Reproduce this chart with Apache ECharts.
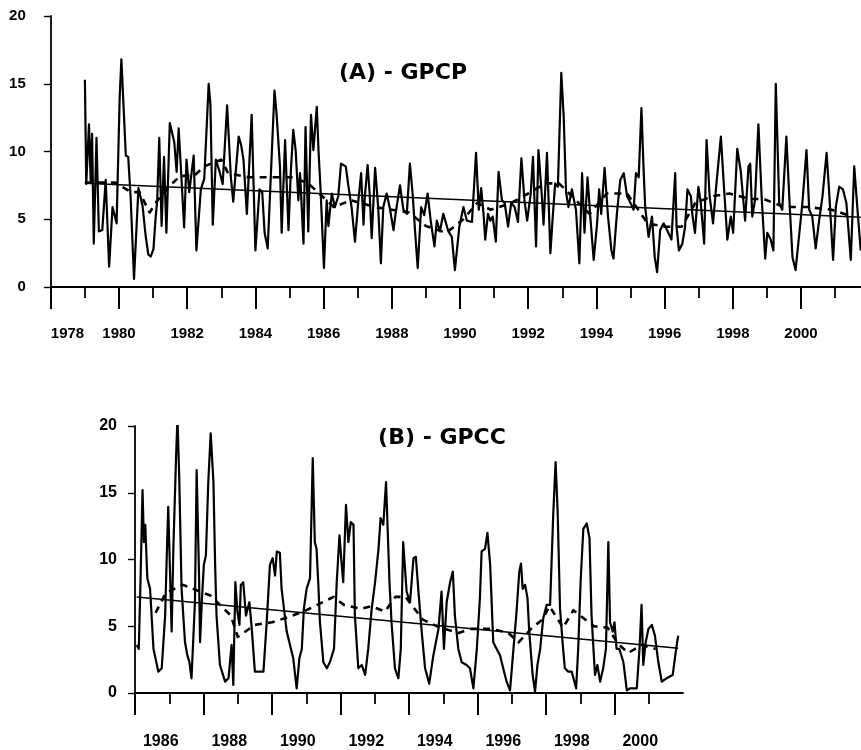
<!DOCTYPE html>
<html><head><meta charset="utf-8">
<script src="https://cdn.jsdelivr.net/npm/echarts@6/dist/echarts.min.js"></script>
<style>html,body{margin:0;padding:0;background:#fff}#chart{width:861px;height:750px}</style>
</head><body><div id="chart"></div>
<script>
// ---------- Panel A : GPCP ----------
const gpcpYears = [
 1979.00,1979.04,1979.12,1979.17,1979.21,1979.26,1979.34,1979.41,1979.51,1979.61,1979.71,1979.81,1979.93,
 1980.02,1980.07,1980.20,1980.27,1980.34,1980.44,1980.57,1980.69,1980.78,1980.86,1980.93,
 1981.01,1981.07,1981.12,1981.18,1981.25,1981.32,1981.39,1981.49,1981.62,1981.69,1981.75,1981.81,1981.91,1981.98,
 1982.06,1982.19,1982.27,1982.40,1982.50,1982.63,1982.68,1982.75,1982.84,1982.94,
 1983.04,1983.17,1983.28,1983.35,1983.51,1983.58,1983.65,1983.75,1983.89,
 1984.00,1984.12,1984.20,1984.27,1984.36,1984.56,1984.62,1984.72,1984.77,1984.87,1984.97,
 1985.04,1985.11,1985.18,1985.26,1985.31,1985.41,1985.47,1985.55,1985.63,1985.70,1985.80,1985.85,1985.91,
 1986.01,1986.09,1986.14,1986.24,1986.33,1986.43,1986.51,1986.65,1986.73,1986.82,1986.92,
 1987.02,1987.10,1987.17,1987.21,1987.29,1987.35,1987.41,1987.51,1987.60,1987.68,1987.75,1987.85,1987.95,
 1988.05,1988.11,1988.24,1988.34,1988.44,1988.53,1988.61,1988.68,1988.76,1988.86,1988.95,
 1989.05,1989.14,1989.25,1989.32,1989.41,1989.51,1989.66,1989.76,1989.85,1989.98,
 1990.10,1990.20,1990.35,1990.47,1990.55,1990.62,1990.69,1990.74,1990.82,1990.89,1990.96,
 1991.05,1991.13,1991.23,1991.31,1991.41,1991.50,1991.60,1991.70,1991.80,1991.89,1991.97,
 1992.07,1992.14,1992.23,1992.30,1992.40,1992.45,1992.55,1992.65,1992.72,1992.79,1992.87,1992.97,
 1993.04,1993.11,1993.18,1993.28,1993.40,1993.50,1993.58,1993.65,1993.74,1993.82,1993.92,
 1994.02,1994.08,1994.14,1994.24,1994.34,1994.44,1994.50,1994.60,1994.70,1994.80,1994.90,
 1995.00,1995.09,1995.16,1995.24,1995.32,1995.38,1995.43,1995.53,1995.63,1995.71,1995.78,1995.87,1995.97,
 1996.07,1996.20,1996.31,1996.35,1996.42,1996.52,1996.60,1996.67,1996.77,1996.81,1996.89,1996.99,
 1997.06,1997.16,1997.23,1997.32,1997.42,1997.52,1997.65,1997.74,1997.84,1997.94,
 1998.01,1998.13,1998.23,1998.36,1998.46,1998.51,1998.57,1998.65,1998.75,1998.85,1998.95,
 1999.01,1999.11,1999.19,1999.26,1999.36,1999.45,1999.57,1999.67,1999.75,1999.84,1999.94,
 2000.04,2000.16,2000.24,2000.33,2000.43,2000.53,2000.63,2000.75,2000.82,2000.94,
 2001.02,2001.12,2001.23,2001.33,2001.46,2001.56,2001.65,2001.75
];
const gpcpValues = [
 15.3,7.6,12.0,7.8,11.3,3.2,11.0,4.1,4.2,7.9,1.5,5.9,4.7,
 14.0,16.8,9.7,9.6,6.7,0.6,7.3,6.0,3.8,2.4,2.25,
 2.8,5.0,6.4,11.0,4.5,9.6,4.0,12.1,10.7,8.5,11.7,9.0,4.4,9.4,
 7.0,9.7,2.7,7.2,8.0,15.0,13.5,4.6,9.4,8.6,
 7.6,13.4,8.1,6.3,11.1,10.5,9.4,5.4,12.7,
 2.7,7.2,7.0,4.0,2.85,14.5,12.8,8.9,4.0,10.85,4.2,
 8.6,11.6,10.1,6.4,8.4,3.2,11.8,4.1,12.7,10.1,13.3,10.1,7.2,
 1.4,6.4,4.5,6.9,5.9,6.7,9.1,8.9,7.4,5.9,3.35,
 6.4,8.4,4.6,6.7,9.0,6.9,3.6,8.8,5.9,1.75,5.9,6.9,5.7,
 4.2,5.4,7.5,5.7,5.4,9.1,6.9,4.2,1.4,5.9,5.3,
 6.9,4.9,3.0,4.9,4.1,5.4,4.1,3.7,1.25,4.45,
 5.9,4.9,4.8,9.9,5.7,7.3,5.4,3.5,5.4,4.9,5.2,
 3.35,8.5,6.4,6.2,4.45,6.2,5.9,4.8,9.5,6.4,4.9,
 6.8,9.6,3.0,10.1,6.7,4.6,9.9,2.5,5.2,7.65,7.4,15.8,
 12.6,7.0,5.9,7.2,5.7,1.75,8.4,4.0,8.1,5.2,2.0,
 4.7,7.2,5.4,8.8,5.2,2.7,2.1,5.4,7.9,8.4,6.7,
 6.2,5.7,8.4,8.1,13.2,8.9,5.9,3.7,5.2,2.2,1.1,4.2,4.7,
 4.2,3.5,8.4,4.45,2.7,3.2,4.45,7.2,6.7,5.4,4.0,7.4,
 6.2,3.2,10.85,6.7,4.7,7.65,11.1,7.4,3.5,5.2,
 4.0,10.2,8.6,4.9,8.9,9.1,5.2,6.4,12.0,6.4,2.1,
 4.0,3.5,2.7,15.0,6.2,5.7,11.1,5.9,2.2,1.25,3.7,
 6.2,10.1,5.7,5.2,2.85,4.9,6.7,9.9,7.2,2.0,
 5.9,7.4,7.2,6.2,2.0,8.9,5.9,2.7
];
const gpcpMeanYears = [1979.0,1979.9,1980.35,1980.6,1980.9,1981.1,1981.5,1981.8,1982.2,1982.5,
 1983.0,1983.2,1983.8,1984.2,1984.6,1985.1,1985.55,1986.0,1986.3,1986.8,
 1987.5,1988.0,1988.5,1989.0,1989.6,1990.1,1990.5,1990.9,1991.5,1992.0,
 1992.5,1992.9,1993.2,1993.8,1994.3,1994.9,1995.5,1996.0,1996.5,1996.9,
 1997.4,1997.9,1998.5,1998.9,1999.5,2000.2,2000.9,2001.5];
const gpcpMeanValues = [7.7,7.7,7.0,7.0,5.5,6.3,7.5,8.2,8.2,8.9,
 9.4,8.4,8.1,8.1,8.1,8.1,7.65,6.6,5.9,6.4,
 5.9,5.7,5.5,4.5,4.0,5.0,6.2,5.7,6.2,6.9,
 7.65,7.65,6.9,5.4,6.9,6.9,4.7,4.45,4.45,6.2,
 6.7,6.9,6.5,6.5,5.9,5.9,5.7,5.2];
const gpcpTrendYears = [1979.0, 2001.75];
const gpcpTrendValues = [7.65, 5.15];
const gpcpTickYears = [1978,1979,1980,1981,1982,1983,1984,1985,1986,1987,1988,1989,1990,1991,1992,1993,1994,1995,1996,1997,1998,1999,2000,2001];
const gpcpLongTickYears = [1978,1980,1982,1984,1986,1988,1990,1992,1994,1996,1998,2000];
const gpcpLabelYears = [1978,1980,1982,1984,1986,1988,1990,1992,1994,1996,1998,2000];

// ---------- Panel B : GPCC ----------
const gpccYears = [
 1985.05,1985.11,1985.16,1985.22,1985.26,1985.30,1985.36,1985.44,1985.54,1985.68,1985.78,1985.88,1985.92,1985.97,
 1986.02,1986.07,1986.12,1986.20,1986.24,1986.29,1986.36,1986.46,1986.53,1986.59,1986.65,1986.75,1986.80,1986.87,1986.90,1986.95,
 1987.01,1987.07,1987.14,1987.21,1987.29,1987.34,1987.38,1987.48,1987.63,1987.73,1987.82,1987.87,1987.93,1987.99,
 1988.05,1988.09,1988.16,1988.24,1988.34,1988.41,1988.50,1988.75,1988.84,1988.94,
 1989.02,1989.09,1989.14,1989.23,1989.28,1989.43,1989.62,1989.72,1989.80,1989.87,1989.93,
 1990.01,1990.11,1990.19,1990.25,1990.30,1990.35,1990.40,1990.50,1990.60,1990.69,1990.81,1990.89,1990.97,
 1991.03,1991.08,1991.16,1991.23,1991.30,1991.38,1991.42,1991.52,1991.62,1991.72,1991.81,1991.91,
 1992.01,1992.11,1992.17,1992.25,1992.33,1992.38,1992.43,1992.49,1992.59,1992.69,1992.76,1992.83,1992.93,
 1993.03,1993.13,1993.20,1993.27,1993.37,1993.47,1993.59,1993.71,1993.86,1993.95,
 1994.02,1994.10,1994.20,1994.28,1994.34,1994.44,1994.54,1994.68,1994.78,1994.88,1994.98,
 1995.07,1995.12,1995.22,1995.29,1995.37,1995.46,1995.56,1995.66,1995.75,1995.85,1995.95,
 1996.05,1996.14,1996.22,1996.27,1996.32,1996.39,1996.46,1996.51,1996.61,1996.68,1996.75,1996.83,1996.92,
 1997.02,1997.12,1997.21,1997.28,1997.34,1997.41,1997.49,1997.55,1997.65,1997.75,1997.88,1997.94,
 1998.01,1998.09,1998.19,1998.27,1998.33,1998.43,1998.50,1998.58,1998.67,1998.75,1998.82,1998.87,1998.95,
 1999.00,1999.06,1999.14,1999.26,1999.36,1999.45,1999.65,1999.73,1999.79,1999.84,1999.91,1999.99,
 2000.09,2000.18,2000.28,2000.38,2000.52,2000.70,2000.80,2000.86
];
const gpccValues = [
 3.6,3.3,8.3,15.2,11.3,12.6,8.6,7.8,3.3,1.6,1.85,5.8,9.6,13.95,
 9.3,4.6,10.8,17.8,20.6,16.3,7.8,3.8,2.8,2.3,1.1,6.8,16.7,8.8,3.8,6.8,
 9.6,10.3,15.8,19.45,15.8,9.6,5.8,2.1,0.85,1.1,3.6,0.6,8.3,6.1,
 5.1,8.1,8.3,5.8,6.8,4.8,1.6,1.6,5.1,9.6,
 10.1,8.8,10.6,10.5,7.8,4.6,2.6,0.35,2.6,3.3,6.3,
 7.8,8.6,17.6,11.3,10.8,8.3,5.3,2.3,1.85,2.3,3.3,8.3,11.8,
 9.8,8.3,14.1,11.3,12.8,12.6,5.8,1.85,2.1,1.35,3.3,6.3,
 8.3,10.8,13.1,12.6,15.8,15.9,8.3,5.3,1.85,1.1,3.3,11.3,7.6,
 6.8,10.1,10.2,7.8,4.6,1.85,0.7,2.8,4.8,7.6,
 3.3,6.8,8.3,9.1,5.8,3.3,2.3,2.1,1.85,0.35,3.3,
 7.1,10.6,10.8,12.0,9.6,3.8,3.3,2.8,1.85,0.85,0.2,
 3.3,6.1,9.1,9.7,7.8,8.1,7.1,4.6,1.35,0.1,2.1,3.3,5.6,
 6.6,6.6,13.3,17.3,13.6,6.3,3.6,1.85,1.6,1.6,0.35,3.3,
 8.3,12.3,12.7,11.6,5.8,1.35,2.1,0.85,1.85,3.3,11.3,5.3,4.6,
 5.3,3.3,3.3,2.3,0.2,0.35,0.35,3.3,6.6,2.1,3.8,4.8,
 5.1,4.3,2.3,0.85,1.1,1.35,3.3,4.3
];
const gpccMeanYears = [1985.6,1985.9,1986.4,1986.9,1987.2,1987.8,1988.0,1988.5,1989.0,1989.5,
 1990.0,1990.8,1991.1,1991.6,1991.9,1992.3,1992.6,1992.9,1993.4,1993.9,
 1994.45,1994.8,1995.4,1995.9,1996.2,1996.6,1996.9,1997.1,1997.5,1997.8,
 1998.4,1998.8,1999.1,1999.4,1999.8,2000.2];
const gpccMeanValues = [6.0,7.5,8.1,7.6,7.3,5.8,4.2,5.1,5.3,5.7,
 6.2,7.2,6.6,6.3,6.5,6.1,7.2,7.2,5.5,4.9,
 4.5,4.8,4.8,4.5,3.8,4.9,5.5,6.5,4.9,6.2,
 5.0,4.9,3.7,3.0,3.6,3.3];
const gpccTrendYears = [1985.05, 2000.86];
const gpccTrendValues = [7.2, 3.35];
const gpccTickYears = [1985,1986,1987,1988,1989,1990,1991,1992,1993,1994,1995,1996,1997,1998,1999,2000];
const gpccLongTickYears = [1985,1987,1989,1991,1993,1995,1997,1999];
const gpccLabelYears = [1986,1988,1990,1992,1994,1996,1998,2000];

// ---------- build ----------
const FONT = '"Liberation Sans", Arial, Helvetica, sans-serif';
const zip = (xs, ys) => xs.slice(0, Math.min(xs.length, ys.length)).map((x, i) => [x, ys[i]]);
const BLACK = '#000';

function mainX(grid, min, max, ticks, labels, size, margin, pad) {
  return {
    gridIndex: grid, type: 'value', min: min, max: max, position: 'bottom',
    axisLine: { show: true, onZero: false, lineStyle: { color: BLACK, width: 1.8 } },
    axisTick: { show: true, inside: false, length: 11, customValues: ticks, lineStyle: { color: BLACK, width: 1.8 } },
    axisLabel: { show: true, customValues: labels, margin: margin, color: BLACK,
      fontFamily: FONT, fontWeight: 'bold', fontSize: size, padding: pad,
      formatter: v => String(Math.round(v)) },
    splitLine: { show: false }
  };
}
function longX(grid, min, max, ticks) {
  return {
    gridIndex: grid, type: 'value', min: min, max: max, position: 'bottom',
    axisLine: { show: false, onZero: false },
    axisTick: { show: true, inside: false, length: 22, customValues: ticks, lineStyle: { color: BLACK, width: 2 } },
    axisLabel: { show: false }, splitLine: { show: false }
  };
}
function yAx(grid, margin, size) {
  return {
    gridIndex: grid, type: 'value', min: 0, max: 20, interval: 5,
    axisLine: { show: true, lineStyle: { color: BLACK, width: 1.8 } },
    axisTick: { show: true, inside: false, length: 7, lineStyle: { color: BLACK, width: 1.4 } },
    axisLabel: { show: true, margin: margin, color: BLACK, fontFamily: FONT, fontWeight: 'bold', fontSize: size },
    splitLine: { show: false }
  };
}
function lineSeries(xi, yi, data, width, type, z) {
  return {
    type: 'line', xAxisIndex: xi, yAxisIndex: yi, data: data, showSymbol: false, symbol: 'none',
    smooth: false, z: z, silent: true,
    lineStyle: { color: BLACK, width: width, type: type, join: 'round' }
  };
}

const topX = mainX(0, 1978, 2001.75, gpcpTickYears, gpcpLabelYears, 15, 39, 0);
topX.axisLabel.alignMinLabel = 'left';

const option = {
  animation: false,
  backgroundColor: '#fff',
  grid: [
    { left: 50.8, top: 16, width: 809.9, height: 271 },
    { left: 135, top: 426, width: 548, height: 267 }
  ],
  xAxis: [
    topX,
    longX(0, 1978, 2001.75, gpcpLongTickYears),
    mainX(1, 1985, 2001, gpccTickYears, gpccLabelYears, 16, 41, [0, 17, 0, 0]),
    longX(1, 1985, 2001, gpccLongTickYears)
  ],
  yAxis: [ yAx(0, 25, 15), yAx(1, 18, 16) ],
  graphic: [
    { type: 'text', x: 403, y: 73, style: { text: '(A) - GPCP', fill: BLACK,
      font: 'bold 22px "DejaVu Sans", sans-serif', textAlign: 'center', textVerticalAlign: 'middle' } },
    { type: 'text', x: 442, y: 438, style: { text: '(B) - GPCC', fill: BLACK,
      font: 'bold 22px "DejaVu Sans", sans-serif', textAlign: 'center', textVerticalAlign: 'middle' } }
  ],
  series: [
    lineSeries(0, 0, zip(gpcpYears, gpcpValues), 2.2, 'solid', 3),
    lineSeries(0, 0, zip(gpcpMeanYears, gpcpMeanValues), 2.6, [7, 6], 4),
    lineSeries(0, 0, zip(gpcpTrendYears, gpcpTrendValues), 1.5, 'solid', 5),
    lineSeries(2, 1, zip(gpccYears, gpccValues), 2.2, 'solid', 3),
    lineSeries(2, 1, zip(gpccMeanYears, gpccMeanValues), 2.6, [7, 6], 4),
    lineSeries(2, 1, zip(gpccTrendYears, gpccTrendValues), 1.5, 'solid', 5)
  ]
};
const chart = echarts.init(document.getElementById('chart'), null, { renderer: 'canvas' });
chart.setOption(option);
</script></body></html>
